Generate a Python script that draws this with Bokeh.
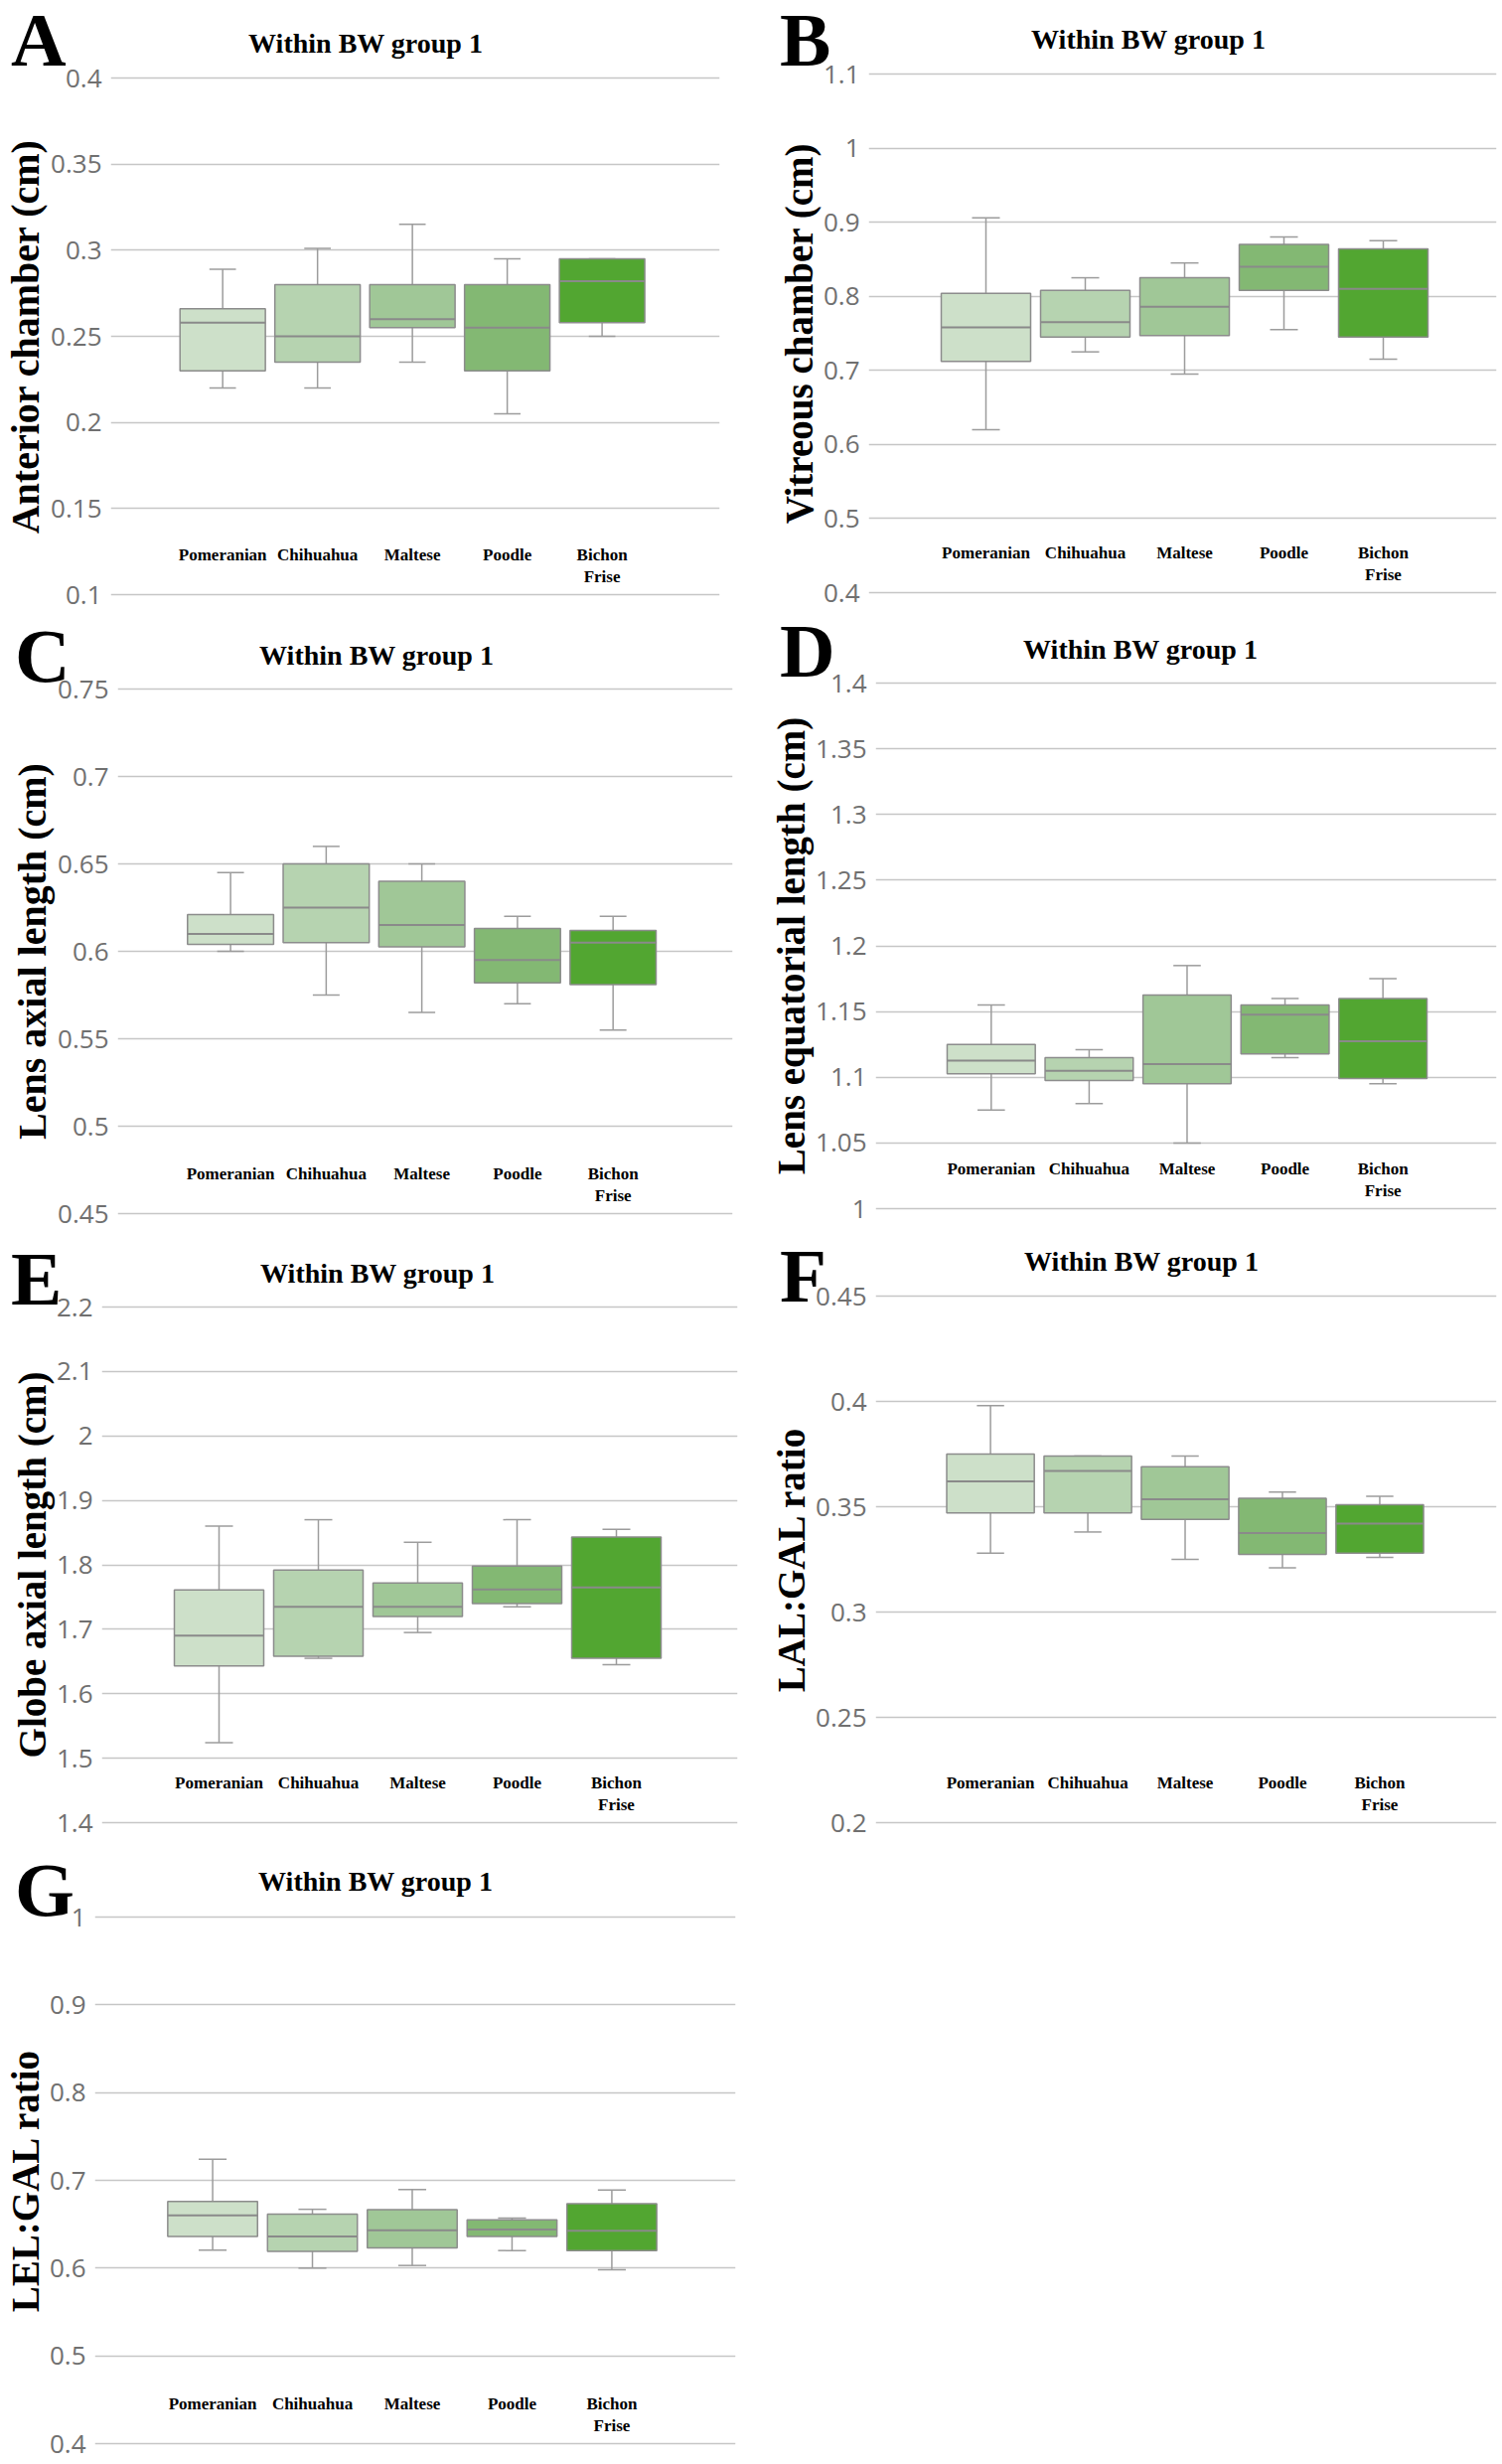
from bokeh.plotting import figure
from bokeh.models import FixedTicker, ColumnDataSource, Div
from bokeh.layouts import column, row
from bokeh.embed import file_html
from bokeh.resources import INLINE
from bokeh.core.properties import value
from bokeh.transform import dodge

categories = ["Pomeranian", "Chihuahua", "Maltese", "Poodle", "Bichon\nFrise"]
box_colors = ["#cde0c9", "#b6d3b0", "#a0c797", "#83b873", "#52a631"]
title_text = "Within BW group 1"

# Panel A - Anterior chamber (cm)
a_low = [0.220, 0.220, 0.235, 0.205, 0.250]
a_q1 = [0.230, 0.235, 0.255, 0.230, 0.258]
a_median = [0.258, 0.250, 0.260, 0.255, 0.282]
a_q3 = [0.266, 0.280, 0.280, 0.280, 0.295]
a_high = [0.289, 0.301, 0.315, 0.295, 0.295]
a_ticks = [0.1, 0.15, 0.2, 0.25, 0.3, 0.35, 0.4]
a_tick_labels = ["0.1", "0.15", "0.2", "0.25", "0.3", "0.35", "0.4"]

# Panel B - Vitreous chamber (cm)
b_low = [0.620, 0.725, 0.695, 0.755, 0.715]
b_q1 = [0.712, 0.745, 0.747, 0.808, 0.745]
b_median = [0.758, 0.765, 0.786, 0.840, 0.810]
b_q3 = [0.804, 0.808, 0.825, 0.870, 0.864]
b_high = [0.906, 0.825, 0.845, 0.880, 0.875]
b_ticks = [0.4, 0.5, 0.6, 0.7, 0.8, 0.9, 1.0, 1.1]
b_tick_labels = ["0.4", "0.5", "0.6", "0.7", "0.8", "0.9", "1", "1.1"]

# Panel C - Lens axial length (cm)
c_low = [0.600, 0.575, 0.565, 0.570, 0.555]
c_q1 = [0.604, 0.605, 0.6025, 0.582, 0.581]
c_median = [0.610, 0.625, 0.615, 0.595, 0.605]
c_q3 = [0.621, 0.650, 0.640, 0.613, 0.612]
c_high = [0.645, 0.660, 0.650, 0.620, 0.620]
c_ticks = [0.45, 0.5, 0.55, 0.6, 0.65, 0.7, 0.75]
c_tick_labels = ["0.45", "0.5", "0.55", "0.6", "0.65", "0.7", "0.75"]

# Panel D - Lens equatorial length (cm)
d_low = [1.075, 1.080, 1.050, 1.115, 1.095]
d_q1 = [1.1027, 1.0976, 1.095, 1.1177, 1.099]
d_median = [1.1126, 1.105, 1.110, 1.1476, 1.1275]
d_q3 = [1.125, 1.115, 1.1626, 1.155, 1.160]
d_high = [1.155, 1.121, 1.185, 1.160, 1.175]
d_ticks = [1.0, 1.05, 1.1, 1.15, 1.2, 1.25, 1.3, 1.35, 1.4]
d_tick_labels = ["1", "1.05", "1.1", "1.15", "1.2", "1.25", "1.3", "1.35", "1.4"]

# Panel E - Globe axial length (cm)
e_low = [1.524, 1.655, 1.695, 1.735, 1.645]
e_q1 = [1.643, 1.658, 1.720, 1.740, 1.655]
e_median = [1.690, 1.735, 1.735, 1.762, 1.765]
e_q3 = [1.761, 1.792, 1.772, 1.798, 1.843]
e_high = [1.860, 1.870, 1.835, 1.870, 1.855]
e_ticks = [1.4, 1.5, 1.6, 1.7, 1.8, 1.9, 2.0, 2.1, 2.2]
e_tick_labels = ["1.4", "1.5", "1.6", "1.7", "1.8", "1.9", "2", "2.1", "2.2"]

# Panel F - LAL:GAL ratio
f_low = [0.328, 0.338, 0.325, 0.321, 0.326]
f_q1 = [0.347, 0.347, 0.344, 0.3274, 0.328]
f_median = [0.362, 0.367, 0.3535, 0.3375, 0.342]
f_q3 = [0.375, 0.374, 0.369, 0.354, 0.351]
f_high = [0.398, 0.374, 0.374, 0.357, 0.355]
f_ticks = [0.2, 0.25, 0.3, 0.35, 0.4, 0.45]
f_tick_labels = ["0.2", "0.25", "0.3", "0.35", "0.4", "0.45"]

# Panel G - LEL:GAL ratio
g_low = [0.6205, 0.600, 0.603, 0.620, 0.598]
g_q1 = [0.636, 0.619, 0.623, 0.636, 0.620]
g_median = [0.660, 0.636, 0.643, 0.644, 0.6425]
g_q3 = [0.676, 0.6616, 0.6667, 0.655, 0.6735]
g_high = [0.724, 0.667, 0.6895, 0.657, 0.689]
g_ticks = [0.4, 0.5, 0.6, 0.7, 0.8, 0.9, 1.0]
g_tick_labels = ["0.4", "0.5", "0.6", "0.7", "0.8", "0.9", "1"]

SERIF = "Liberation Serif"
SANS = "Open Sans"
PANEL_W = 756
TOP = 17
LETTER_PX = 77
TITLE_PX = 28


def header(lay, letter):
    # positions (in px) inside the header band of this panel
    h = lay["div_h"]
    letter_top = lay["lb"] - 0.891 * LETTER_PX
    title_top = lay["ty"] - (0.891 - 0.331) * TITLE_PX
    html = (
        f'<div style="position:relative;width:{PANEL_W}px;height:{h}px;">'
        f'<span style="position:absolute;left:{lay["lx"]}px;top:{letter_top:.1f}px;'
        f'font-family:\'{SERIF}\';font-weight:bold;font-size:{LETTER_PX}px;line-height:1.107;'
        f'color:black;white-space:nowrap;">{letter}</span>'
        f'<span style="position:absolute;left:{lay["tx"]}px;top:{title_top:.1f}px;'
        f'transform:translateX(-50%);font-family:\'{SERIF}\';font-weight:bold;'
        f'font-size:{TITLE_PX}px;line-height:1.107;color:black;white-space:nowrap;">{title_text}</span>'
        f'</div>'
    )
    return Div(text=html, width=PANEL_W, height=h, margin=(0, 0, 0, 0))


def make_panel(lay, letter, ylabel, low, q1, med, q3, high, ticks, tick_labels):
    fig_h = lay["fig_h"]
    frame_h = fig_h - TOP - lay["bottom"]
    lo, hi = ticks[0], ticks[-1]
    pad = (hi - lo) * 2.0 / (frame_h - 4)
    x0 = -1.18
    p = figure(width=PANEL_W, height=fig_h, x_range=(x0, lay["x1"]),
               y_range=(lo - pad, hi + pad), output_backend="svg",
               toolbar_location=None, x_axis_location=None,
               min_border_left=lay["left"], min_border_right=lay["right"],
               min_border_top=TOP, min_border_bottom=lay["bottom"],
               margin=(-lay["overlap"], 0, 0, 0))
    p.outline_line_color = None
    p.background_fill_color = "white"
    p.border_fill_color = None
    for g in p.xgrid:
        g.visible = False
    p.ygrid.grid_line_color = "#c6c6c6"
    p.ygrid.grid_line_width = 1.6

    ax = p.yaxis[0]
    ax.ticker = FixedTicker(ticks=ticks)
    ax.major_label_overrides = {t: s for t, s in zip(ticks, tick_labels)}
    ax.axis_line_color = None
    ax.major_tick_line_color = None
    ax.minor_tick_line_color = None
    ax.major_label_standoff = 3
    ax.major_label_text_font = SANS
    ax.major_label_text_font_size = "26px"
    ax.major_label_text_color = "#707070"
    ax.axis_label = ylabel
    ax.axis_label_text_font = SERIF
    ax.axis_label_text_font_style = "bold"
    ax.axis_label_text_font_size = lay["yl_size"]
    ax.axis_label_text_color = "black"
    ax.axis_label_standoff = 0

    xs = list(range(len(categories)))
    src = ColumnDataSource(dict(x=xs, low=low, q1=q1, med=med, q3=q3, high=high,
                                color=box_colors, cat=categories, base=[lo] * len(xs)))
    wcol = "#9c9c9c"
    p.segment(x0="x", y0="q3", x1="x", y1="high", source=src, line_color=wcol, line_width=1.5)
    p.segment(x0="x", y0="q1", x1="x", y1="low", source=src, line_color=wcol, line_width=1.5)
    p.segment(x0=dodge("x", -0.14), x1=dodge("x", 0.14), y0="high", y1="high",
              source=src, line_color=wcol, line_width=1.5)
    p.segment(x0=dodge("x", -0.14), x1=dodge("x", 0.14), y0="low", y1="low",
              source=src, line_color=wcol, line_width=1.5)
    p.vbar(x="x", width=0.9, bottom="q1", top="q3", source=src, fill_color="color",
           line_color="#8c8c8c", line_width=1.5)
    p.segment(x0=dodge("x", -0.45), x1=dodge("x", 0.45), y0="med", y1="med",
              source=src, line_color="#8a8a8a", line_width=2)
    p.text(x="x", y="base", text="cat", source=src, text_font=value(SERIF),
           text_font_style="bold", text_font_size="17px", text_align="center",
           text_baseline="top", y_offset=-50, text_color="black")

    return column(header(lay, letter), p, spacing=0)


# layout of each panel: header band height, overlap of plot into band, plot size/borders,
# letter / title positions inside the band
lay_a = dict(div_h=84, overlap=25, fig_h=558, left=104, right=32, bottom=17, x1=5.24,
             tx=368, ty=44, lx=11, lb=67, yl_size="40px")
lay_c = dict(div_h=87, overlap=30, fig_h=566, left=118, right=19, bottom=17, x1=5.25,
             tx=379, ty=43, lx=15, lb=70, yl_size="40px")
lay_e = dict(div_h=91, overlap=35, fig_h=557, left=102, right=14, bottom=17, x1=5.22,
             tx=380, ty=42, lx=11, lb=74, yl_size="39px")
lay_g = dict(div_h=93, overlap=36, fig_h=568, left=95, right=16, bottom=17, x1=5.24,
             tx=378, ty=41, lx=15, lb=76, yl_size="39px")
lay_b = dict(div_h=84, overlap=29, fig_h=558, left=118, right=6, bottom=15, x1=5.14,
             tx=400, ty=40, lx=29, lb=67, yl_size="39px")
lay_d = dict(div_h=86, overlap=31, fig_h=567, left=125, right=6, bottom=17, x1=5.16,
             tx=392, ty=41, lx=29, lb=69, yl_size="39px")
lay_f = dict(div_h=93, overlap=43, fig_h=568, left=125, right=6, bottom=17, x1=5.20,
             tx=393, ty=35, lx=29, lb=76, yl_size="39px")

pA = make_panel(lay_a, "A", "Anterior chamber (cm)", a_low, a_q1, a_median, a_q3, a_high, a_ticks, a_tick_labels)
pB = make_panel(lay_b, "B", "Vitreous chamber (cm)", b_low, b_q1, b_median, b_q3, b_high, b_ticks, b_tick_labels)
pC = make_panel(lay_c, "C", "Lens axial length (cm)", c_low, c_q1, c_median, c_q3, c_high, c_ticks, c_tick_labels)
pD = make_panel(lay_d, "D", "Lens equatorial length (cm)", d_low, d_q1, d_median, d_q3, d_high, d_ticks, d_tick_labels)
pE = make_panel(lay_e, "E", "Globe axial length (cm)", e_low, e_q1, e_median, e_q3, e_high, e_ticks, e_tick_labels)
pF = make_panel(lay_f, "F", "LAL:GAL ratio", f_low, f_q1, f_median, f_q3, f_high, f_ticks, f_tick_labels)
pG = make_panel(lay_g, "G", "LEL:GAL ratio", g_low, g_q1, g_median, g_q3, g_high, g_ticks, g_tick_labels)

layout = row(column(pA, pC, pE, pG, spacing=0), column(pB, pD, pF, spacing=0), spacing=0)
open("out.html", "w").write(file_html(layout, INLINE))
